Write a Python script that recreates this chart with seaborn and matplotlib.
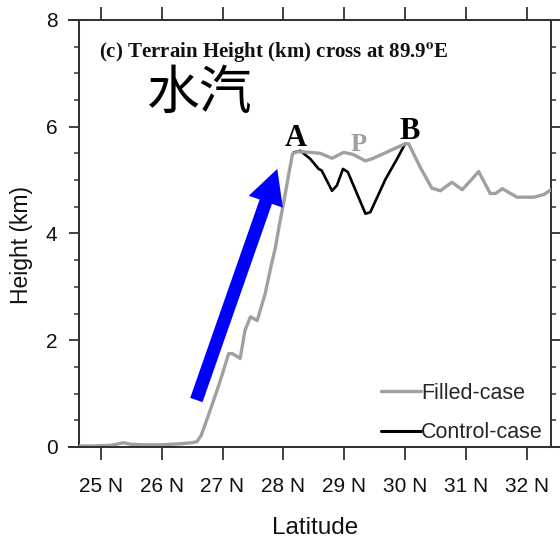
import matplotlib
matplotlib.use("Agg")
import matplotlib.pyplot as plt
import pandas as pd
import seaborn as sns
from matplotlib import font_manager
from matplotlib.lines import Line2D
from matplotlib.patches import FancyArrowPatch, ArrowStyle
from matplotlib.ticker import FixedLocator, MultipleLocator

# Terrain height along the 89.9E cross-section (latitude in degrees N, height in km)
filled_lat = [24.64, 24.90, 25.15, 25.25, 25.37, 25.50, 25.70, 26.00, 26.30, 26.50,
              26.58, 26.65, 26.77, 26.93, 27.02, 27.10, 27.16, 27.29, 27.37, 27.46,
              27.57, 27.70, 27.80, 27.87, 27.94, 28.00, 28.09, 28.15, 28.22, 28.33,
              28.45, 28.61, 28.80, 28.99, 29.15, 29.35, 29.48, 30.00, 30.06, 30.25,
              30.44, 30.58, 30.77, 30.94, 31.10, 31.21, 31.40, 31.49, 31.60, 31.84,
              32.12, 32.28, 32.40]
filled_h = [0.02, 0.02, 0.03, 0.05, 0.08, 0.05, 0.04, 0.04, 0.06, 0.08,
            0.10, 0.22, 0.60, 1.13, 1.45, 1.75, 1.75, 1.66, 2.19, 2.44,
            2.37, 2.87, 3.40, 3.74, 4.20, 4.55, 5.12, 5.49, 5.53, 5.53,
            5.52, 5.50, 5.41, 5.52, 5.48, 5.36, 5.41, 5.68, 5.68, 5.24,
            4.85, 4.80, 4.96, 4.82, 5.02, 5.16, 4.75, 4.75, 4.84, 4.68,
            4.68, 4.73, 4.82]

# Control run differs only over the plateau between A and B
control_lat = [28.17, 28.28, 28.44, 28.58, 28.63, 28.80, 28.88, 28.98, 29.06, 29.35,
               29.43, 29.68, 29.87, 30.00]
control_h = [5.52, 5.55, 5.40, 5.21, 5.18, 4.80, 4.90, 5.21, 5.15, 4.37,
             4.40, 5.02, 5.40, 5.68]

lat_ticks = [25, 26, 27, 28, 29, 30, 31, 32]
lat_labels = [f"{v} N" for v in lat_ticks]
height_ticks = [0, 2, 4, 6, 8]

series_names = ["Filled-case", "Control-case"]
series_colors = ["#a0a0a0", "#000000"]

title_text = "(c) Terrain Height (km) cross at 89.9$^{\\mathbf{o}}$E"
vapor_text = "水汽"

# point labels on the ridge: (text, lat, height, color, size)
point_labels = [("A", 28.20, 5.64, "#000000", 22),
                ("P", 29.24, 5.54, "#a0a0a0", 19),
                ("B", 30.07, 5.77, "#000000", 22)]

# moisture-flow arrow, tail -> head in (lat, km)
arrow_tail = (26.57, 0.88)
arrow_head = (27.90, 5.21)

df = pd.concat([
    pd.DataFrame({"lat": filled_lat, "h": filled_h, "case": series_names[0]}),
    pd.DataFrame({"lat": control_lat, "h": control_h, "case": series_names[1]}),
], ignore_index=True)

sns.set_theme(style="white")
installed = {f.name for f in font_manager.fontManager.ttflist}
if "Liberation Sans Narrow" in installed:
    SANS = "Liberation Sans Narrow"
    tick_fs, legend_fs, xlabel_fs = 16, 16.5, 19.5
else:
    SANS = "Liberation Sans"
    tick_fs, legend_fs, xlabel_fs = 15, 15.5, 17.5
SERIF = "Liberation Serif"
plt.rcParams["font.family"] = [SANS, "DejaVu Sans"]
plt.rcParams["mathtext.fontset"] = "stix"

SPINE = "#333333"
fig = plt.figure(figsize=(5.6, 5.42), dpi=100)
ax = fig.add_axes([0.141, 0.1753, 0.843, 0.7878])
ax.set_facecolor("white")

sub_c = df[df["case"] == series_names[1]]
sub_f = df[df["case"] == series_names[0]]
sns.lineplot(data=sub_c, x="lat", y="h", color=series_colors[1], linewidth=1.9,
             sort=False, estimator=None, ax=ax, legend=False, zorder=3)
sns.lineplot(data=sub_f, x="lat", y="h", color=series_colors[0], linewidth=2.4,
             sort=False, estimator=None, ax=ax, legend=False, zorder=4)

ax.set_xlim(24.64, 32.40)
ax.set_ylim(0, 8)

ax.xaxis.set_major_locator(FixedLocator(lat_ticks))
ax.set_xticklabels(lat_labels)
ax.yaxis.set_major_locator(FixedLocator(height_ticks))
ax.yaxis.set_minor_locator(MultipleLocator(0.5))

for s in ax.spines.values():
    s.set_visible(True)
    s.set_color(SPINE)
    s.set_linewidth(1.45)

ax.tick_params(axis="x", which="major", direction="out", length=9.5, width=1.3,
               color=SPINE, top=True, bottom=True, labeltop=False,
               labelsize=tick_fs, pad=12, labelcolor="#111111")
ax.tick_params(axis="y", which="major", direction="out", length=7.5, width=1.3,
               color=SPINE, left=True, right=True, labelright=False,
               labelsize=tick_fs, pad=8, labelcolor="#111111")
ax.tick_params(axis="y", which="minor", direction="out", length=3.5, width=1.1,
               color=SPINE, left=True, right=True)

# horizontal frame lines run a little past the box on both sides
for yy in (0, 1):
    ax.plot([-0.024, 1.03], [yy, yy], transform=ax.transAxes, color=SPINE,
            lw=1.45, clip_on=False, zorder=5, solid_capstyle="butt")

ax.set_xlabel("Latitude", fontsize=xlabel_fs, color="#111111")
ax.xaxis.set_label_coords(0.5, -0.165)
ax.set_ylabel("Height (km)", fontsize=16.5, family=["Liberation Sans", "DejaVu Sans"],
              color="#111111")
ax.yaxis.set_label_coords(-0.097, 0.473)

ax.text(0.042, 0.913, title_text, transform=ax.transAxes, fontsize=15,
        family=SERIF, weight="bold", ha="left", va="baseline", color="#111111")

ax.text(25.76, 6.62, vapor_text, fontsize=38,
        family=["Noto Sans CJK SC", "DejaVu Sans"], ha="left", va="center",
        color="black")

for txt, x, y, c, fs in point_labels:
    ax.text(x, y, txt, fontsize=fs, family=SERIF, weight="bold", color=c,
            ha="center", va="baseline", zorder=6)

arrow = FancyArrowPatch(arrow_tail, arrow_head,
                        arrowstyle=ArrowStyle.Simple(head_length=25, head_width=26,
                                                     tail_width=9.4),
                        mutation_scale=1, shrinkA=0, shrinkB=0,
                        color="#0000ff", lw=0, zorder=7)
ax.add_patch(arrow)

handles = [Line2D([], [], color=series_colors[0], lw=2.4),
           Line2D([], [], color=series_colors[1], lw=2.2)]
ax.legend(handles, series_names, loc="upper left", bbox_to_anchor=(0.64, 0.150),
          frameon=False, fontsize=legend_fs, handlelength=1.85, handletextpad=0.0,
          labelspacing=0.85, borderpad=0, borderaxespad=0)

fig.savefig("out.png", dpi=100, facecolor="white")
